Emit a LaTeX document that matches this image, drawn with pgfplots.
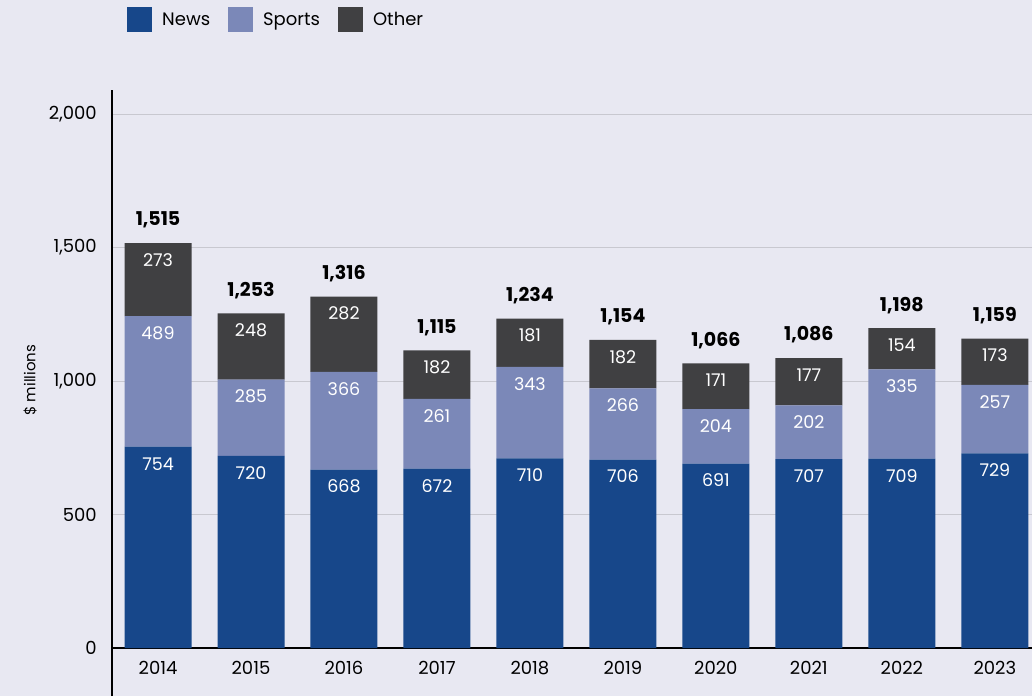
\documentclass[border=0pt]{standalone}
\usepackage{pgfplots}
\usepackage{pgfplotstable}
\pgfplotsset{compat=1.18}
\usepackage{fontspec}
\setmainfont{Poppins}
\definecolor{bg}{HTML}{E8E8F2}
\definecolor{news}{HTML}{17478A}
\definecolor{sports}{HTML}{7B88B8}
\definecolor{other}{HTML}{404042}
\definecolor{gridc}{HTML}{C8C8D0}
\pgfplotstableread{
x news sports other total s1 s2 s3
0 754 489 273 1515 754 1243 1516
1 720 285 248 1253 720 1005 1253
2 668 366 282 1316 668 1034 1316
3 672 261 182 1115 672 933 1115
4 710 343 181 1234 710 1053 1234
5 706 266 182 1154 706 972 1154
6 691 204 171 1066 691 895 1066
7 707 202 177 1086 707 909 1086
8 709 335 154 1198 709 1044 1198
9 729 257 173 1159 729 986 1159
}\data
\newcommand{\fs}{\fontsize{17.5pt}{20pt}\selectfont}
\newcommand{\fst}{\fontsize{18pt}{20pt}\selectfont}
\pgfplotsset{common/.style={
  at={(112pt,48pt)}, anchor=south west,
  width=920pt, height=558pt, scale only axis,
  xmin=-0.495, xmax=9.4, ymin=0, ymax=2090,
  /pgf/number format/1000 sep={,},
  /pgf/number format/assume math mode=true}}
\begin{document}
\begin{tikzpicture}[x=1pt,y=1pt]
\fill[bg] (0,0) rectangle (1032,696);
\begin{axis}[
  common,
  ybar stacked, bar width=67pt,
  xtick={0,...,9},
  xticklabels={2014,2015,2016,2017,2018,2019,2020,2021,2022,2023},
  ytick={0,500,1000,1500,2000},
  axis x line*=bottom, axis y line*=left,
  x axis line style={black, line width=1.5pt, -},
  y axis line style={draw=none},
  major tick length=0pt,
  ymajorgrids, major grid style={gridc, line width=0.8pt},
  tick label style={font=\fst, text=black},
  yticklabel style={inner sep=0pt, xshift=-15pt},
  xticklabel style={inner sep=0pt, anchor=north, yshift=-13pt},
  ylabel={\$ millions},
  ylabel style={at={(rel axis cs:-0.0891,0.48)}, anchor=center, font=\fontsize{15pt}{18pt}\selectfont},
  legend entries={News,Sports,Other},
  legend columns=-1,
  legend image code/.code={\fill[#1] (0pt,-12.5pt) rectangle (25pt,12.5pt); \path (35pt,0pt);},
  legend style={at={(rel axis cs:0,1)}, anchor=west, xshift=15pt, yshift=70.5pt,
    draw=none, fill=none, inner sep=0pt, font=\fontsize{18pt}{20pt}\selectfont,
    nodes={inner sep=0pt},
    /tikz/every even column/.append style={column sep=18pt}},
]
\addplot[fill=news, draw=none] table[x=x, y=news]{\data};
\addplot[fill=sports, draw=none] table[x=x, y=sports]{\data};
\addplot[fill=other, draw=none] table[x=x, y=other]{\data};
\end{axis}
\begin{axis}[
  common, hide axis,
  nodes near coords, point meta=explicit,
  every node near coord/.append style={font=\fs, text=white, anchor=center, yshift=-17pt},
]
\addplot[draw=none, mark=none] table[x=x, y=s1, meta=news]{\data};
\addplot[draw=none, mark=none] table[x=x, y=s2, meta=sports]{\data};
\addplot[draw=none, mark=none] table[x=x, y=s3, meta=other]{\data};
\addplot[draw=none, mark=none, every node near coord/.append style={text=black, font=\fontsize{19pt}{21pt}\selectfont\bfseries, yshift=40pt}] table[x=x, y=s3, meta=total]{\data};
\end{axis}
\draw[black, line width=2pt] (112,0) -- (112,606);
\pgfresetboundingbox
\useasboundingbox (0,0) rectangle (1032,696);
\end{tikzpicture}
\end{document}
